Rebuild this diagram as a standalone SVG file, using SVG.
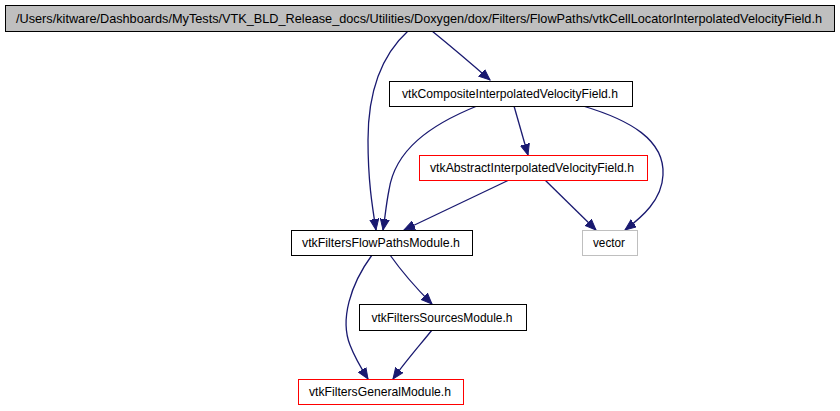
<svg xmlns="http://www.w3.org/2000/svg" width="840" height="411" viewBox="0 0 840 411">
<style>
.n rect{stroke-width:1}
.blk{fill:#ffffff;stroke:#000000}
.red{fill:#ffffff;stroke:#ff0000}
.gry{fill:#ffffff;stroke:#bfbfbf}
.root{fill:#bfbfbf;stroke:#000000}
text{font-family:"Liberation Sans",Arial,sans-serif;font-size:13px;fill:#000000;text-anchor:middle}
.e path{fill:none;stroke:#191970;stroke-width:1.3}
</style>
<defs>
<marker id="ah" markerUnits="userSpaceOnUse" markerWidth="12" markerHeight="10" refX="11" refY="5" orient="auto">
<polygon points="0,0.5 11,5 0,9.5" fill="#191970" stroke="#191970"/>
</marker>
</defs>
<rect width="840" height="411" fill="#ffffff"/>
<g class="e" id="edges">
<path d="M432,31 C448,44 466,59 490,80" marker-end="url(#ah)"/>
<path d="M408,31 C385,52 368,85 368,140 C368,180 372,205 376,230" marker-end="url(#ah)"/>
<path d="M477,106 C430,125 395,150 389,190 C386,205 385,218 383,230" marker-end="url(#ah)"/>
<path d="M514,106 L528,155" marker-end="url(#ah)"/>
<path d="M583,106 C630,120 665,140 663,175 C662,200 642,217 625,230" marker-end="url(#ah)"/>
<path d="M509,180 L404,230" marker-end="url(#ah)"/>
<path d="M545,180 L596,230" marker-end="url(#ah)"/>
<path d="M390,255 C402,272 418,290 432,304" marker-end="url(#ah)"/>
<path d="M372,255 C350,285 340,320 350,345 C355,358 361,368 368,379" marker-end="url(#ah)"/>
<path d="M432,330 C420,345 405,362 393,379" marker-end="url(#ah)"/>
</g>
<g class="n" id="node_root"><rect class="root" x="5.5" y="5.5" width="829" height="26"/><text x="419" y="23" textLength="806" lengthAdjust="spacingAndGlyphs">/Users/kitware/Dashboards/MyTests/VTK_BLD_Release_docs/Utilities/Doxygen/dox/Filters/FlowPaths/vtkCellLocatorInterpolatedVelocityField.h</text></g>
<g class="n" id="node_composite"><rect class="blk" x="389.5" y="81.5" width="243" height="25"/><text x="510" y="98" textLength="216" lengthAdjust="spacingAndGlyphs">vtkCompositeInterpolatedVelocityField.h</text></g>
<g class="n" id="node_abstract"><rect class="red" x="419.5" y="155.5" width="228" height="25"/><text x="532" y="172" textLength="204" lengthAdjust="spacingAndGlyphs">vtkAbstractInterpolatedVelocityField.h</text></g>
<g class="n" id="node_flowpaths"><rect class="blk" x="291.5" y="230.5" width="181" height="25"/><text x="381" y="247" textLength="158" lengthAdjust="spacingAndGlyphs">vtkFiltersFlowPathsModule.h</text></g>
<g class="n" id="node_vector"><rect class="gry" x="582.5" y="230.5" width="55" height="25"/><text x="609" y="247" textLength="32" lengthAdjust="spacingAndGlyphs">vector</text></g>
<g class="n" id="node_sources"><rect class="blk" x="359.5" y="304.5" width="167" height="26"/><text x="442" y="322" textLength="141" lengthAdjust="spacingAndGlyphs">vtkFiltersSourcesModule.h</text></g>
<g class="n" id="node_general"><rect class="red" x="298.5" y="379.5" width="165" height="25"/><text x="380" y="396" textLength="142" lengthAdjust="spacingAndGlyphs">vtkFiltersGeneralModule.h</text></g>
</svg>
